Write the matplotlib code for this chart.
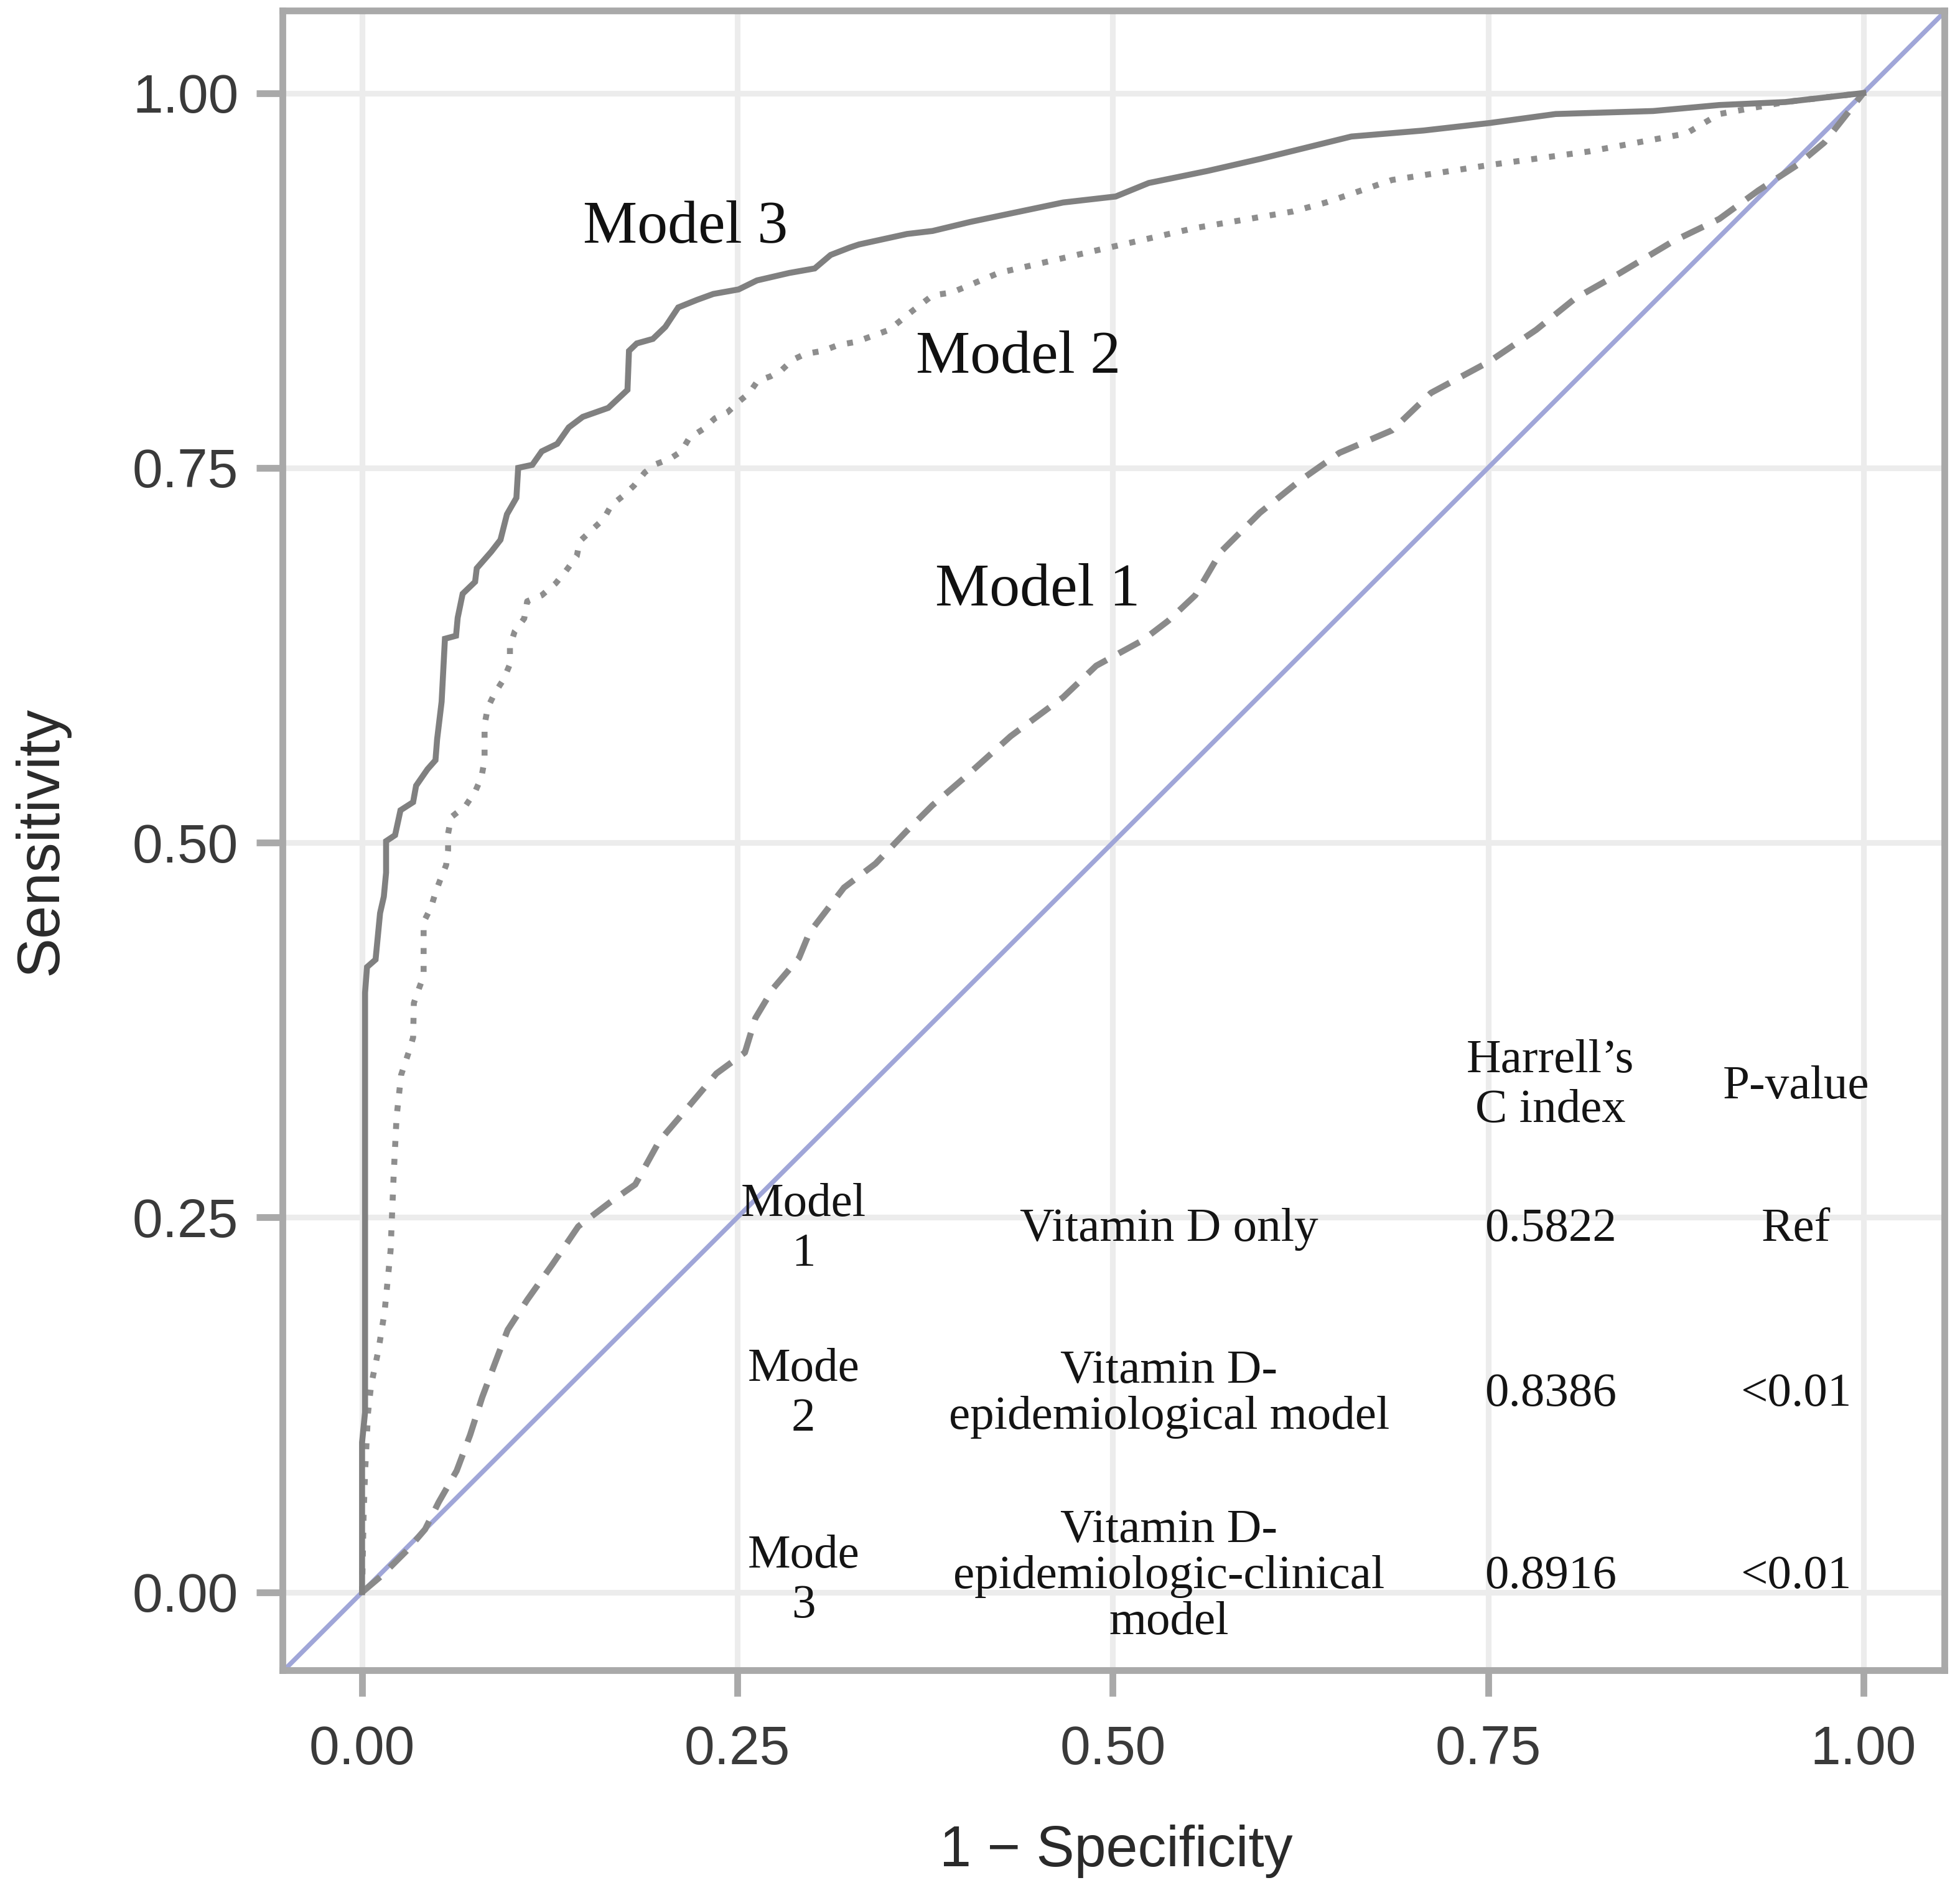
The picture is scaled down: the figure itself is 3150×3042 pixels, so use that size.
import matplotlib
matplotlib.use("Agg")
import matplotlib.pyplot as plt

# ---------------- data ----------------
m3_fpr = [0.0, 0.0, 0.002, 0.002, 0.0033, 0.009, 0.012, 0.0145, 0.016, 0.016, 0.022, 0.0256, 0.034,
          0.036, 0.0436, 0.0489, 0.050, 0.053, 0.0552, 0.0626, 0.0637, 0.067, 0.0753, 0.0764, 0.086,
          0.0922, 0.0965, 0.1028, 0.104, 0.1134, 0.1197, 0.130, 0.1377, 0.147, 0.164, 0.1768, 0.1778,
          0.183, 0.1937, 0.202, 0.2106, 0.223, 0.234, 0.2508, 0.263, 0.2846, 0.3015, 0.3121, 0.325,
          0.331, 0.363, 0.380, 0.405, 0.424, 0.467, 0.502, 0.524, 0.563, 0.598, 0.659, 0.707, 0.751,
          0.795, 0.860, 0.904, 0.948, 1.0]
m3_tpr = [0.0, 0.10, 0.12, 0.40, 0.417, 0.422, 0.453, 0.464, 0.48, 0.501, 0.505, 0.5216, 0.527,
          0.538, 0.549, 0.555, 0.569, 0.594, 0.636, 0.638, 0.650, 0.666, 0.674, 0.683, 0.694,
          0.702, 0.719, 0.730, 0.750, 0.752, 0.761, 0.766, 0.777, 0.784, 0.790, 0.802, 0.828,
          0.833, 0.836, 0.844, 0.857, 0.862, 0.866, 0.869, 0.875, 0.880, 0.883, 0.892, 0.897,
          0.899, 0.906, 0.908, 0.914, 0.918, 0.927, 0.931, 0.940, 0.948, 0.956, 0.971, 0.975, 0.980,
          0.986, 0.988, 0.992, 0.994, 1.0]

m2_fpr = [0.0, 0.001, 0.002, 0.004, 0.006, 0.011, 0.015, 0.019, 0.021, 0.023, 0.026, 0.031, 0.034,
          0.0345, 0.038, 0.041, 0.041, 0.046, 0.049, 0.052, 0.056, 0.0573, 0.0573, 0.0594, 0.0689,
          0.0753, 0.0795, 0.0816, 0.0816, 0.0816, 0.0837, 0.088, 0.0943, 0.0985, 0.0985, 0.1017,
          0.108, 0.110, 0.1197, 0.129, 0.1356, 0.143, 0.145, 0.1535, 0.161, 0.166, 0.1747, 0.181,
          0.1884, 0.1958, 0.205, 0.2127, 0.218, 0.2275, 0.235, 0.2434, 0.2508, 0.258, 0.2635, 0.272,
          0.2793, 0.2867, 0.2952, 0.3068, 0.3174, 0.329, 0.351, 0.367, 0.380, 0.393, 0.424, 0.489,
          0.555, 0.620, 0.642, 0.686, 0.751, 0.817, 0.882, 0.904, 0.948, 1.0]
m2_tpr = [0.0, 0.05, 0.08, 0.12, 0.138, 0.162, 0.187, 0.228, 0.277, 0.317, 0.345, 0.36, 0.370,
          0.393, 0.403, 0.411, 0.447, 0.457, 0.467, 0.475, 0.485, 0.495, 0.506, 0.517, 0.5245,
          0.534, 0.5436, 0.555, 0.567, 0.5785, 0.590, 0.599, 0.609, 0.619, 0.631, 0.641,
          0.6495, 0.661, 0.665, 0.673, 0.681, 0.691, 0.701, 0.709, 0.716, 0.725, 0.732, 0.738,
          0.747, 0.7525, 0.756, 0.761, 0.770, 0.776, 0.783, 0.787, 0.794, 0.800, 0.808, 0.811,
          0.815, 0.822, 0.826, 0.828, 0.832, 0.834, 0.842, 0.855, 0.865, 0.867, 0.880, 0.895,
          0.910, 0.921, 0.927, 0.942, 0.952, 0.961, 0.973, 0.986, 0.994, 1.0]

m1_fpr = [0.0, 0.013, 0.030, 0.042, 0.051, 0.063, 0.072, 0.080, 0.089, 0.097, 0.110, 0.127, 0.144,
          0.165, 0.182, 0.198, 0.215, 0.236, 0.255, 0.262, 0.274, 0.291, 0.298, 0.321, 0.342, 0.363,
          0.380, 0.402, 0.432, 0.467, 0.489, 0.520, 0.537, 0.555, 0.572, 0.598, 0.624, 0.651, 0.686,
          0.712, 0.751, 0.782, 0.808, 0.838, 0.873, 0.904, 0.930, 0.956, 0.974, 0.989, 1.0]
m1_tpr = [0.0, 0.011, 0.028, 0.042, 0.060, 0.081, 0.105, 0.130, 0.154, 0.175, 0.195, 0.219, 0.244,
          0.260, 0.272, 0.301, 0.321, 0.346, 0.360, 0.383, 0.403, 0.423, 0.44, 0.470, 0.486, 0.508,
          0.525, 0.544, 0.571, 0.597, 0.618, 0.635, 0.648, 0.665, 0.694, 0.720, 0.741, 0.760, 0.775,
          0.800, 0.821, 0.842, 0.863, 0.880, 0.901, 0.916, 0.935, 0.952, 0.967, 0.986, 1.0]

ticks = [0.0, 0.25, 0.5, 0.75, 1.0]
tick_labels = ["0.00", "0.25", "0.50", "0.75", "1.00"]

curve_labels = ["Model 3", "Model 2", "Model 1"]
curve_label_xy = [(0.2155, 0.910), (0.437, 0.823), (0.450, 0.668)]

table_header = ["Harrell\u2019s\nC index", "P-value"]
table_models = ["Model\n1", "Mode\n2", "Mode\n3"]
table_desc = ["Vitamin D only", "Vitamin D-\nepidemiological model",
              "Vitamin D-\nepidemiologic-clinical\nmodel"]
table_cindex = ["0.5822", "0.8386", "0.8916"]
table_pvalue = ["Ref", "<0.01", "<0.01"]

# ---------------- figure ----------------
fig = plt.figure(figsize=(10.5, 10.14), dpi=300)
ax = fig.add_axes([454 / 3150, 1 - 2684 / 3042, (3125 - 454) / 3150, (2684 - 17) / 3042])

ax.set_xlim(-0.053, 1.054)
ax.set_ylim(-0.052, 1.055)

frame_col = "#a9a9a9"
for s in ax.spines.values():
    s.set_color(frame_col)
    s.set_linewidth(2.6)

ax.set_xticks(ticks)
ax.set_xticklabels(tick_labels)
ax.set_yticks(ticks)
ax.set_yticklabels(tick_labels)
ax.tick_params(axis="both", direction="out", length=10, width=2.6, color=frame_col,
               labelcolor="#3a3a3a", labelsize=21)
ax.tick_params(axis="x", pad=11)
ax.tick_params(axis="y", pad=7)
for lab in ax.get_xticklabels() + ax.get_yticklabels():
    lab.set_family("Liberation Sans")

ax.grid(True, color="#ececec", linewidth=2.2)
ax.set_axisbelow(True)

# diagonal reference line
ax.axline((0, 0), (1, 1), color="#a0a6d8", linewidth=1.8, zorder=2)

ax.plot(m1_fpr, m1_tpr, color="#8a8a8a", linewidth=2.4, linestyle=(0, (3.8, 2.2)), zorder=3)
ax.plot(m2_fpr, m2_tpr, color="#8e8e8e", linewidth=2.3, linestyle=(0, (1.0, 2.0)), zorder=3)
ax.plot(m3_fpr, m3_tpr, color="#808080", linewidth=2.3, linestyle="-", zorder=4,
        solid_joinstyle="miter")

serif = "Liberation Serif"
for lab, (x, y) in zip(curve_labels, curve_label_xy):
    ax.text(x, y, lab, family=serif, fontsize=23.5, ha="center", va="center", color="#111111")

# table
tcol = "#141414"
tsize = 18.5
col_x = [0.294, 0.5375, 0.7915, 0.955]
row_y = [0.242, 0.132, 0.0104]
ax.text(col_x[2], 0.338, table_header[0], family=serif, fontsize=tsize, ha="center",
        va="center", linespacing=1.2, color=tcol)
ax.text(col_x[3], 0.337, table_header[1], family=serif, fontsize=tsize, ha="center",
        va="center", color=tcol)
for i in range(3):
    ax.text(col_x[0], row_y[i] if i < 2 else 0.0075, table_models[i], family=serif,
            fontsize=tsize, ha="center", va="center", linespacing=1.2, color=tcol)
    ax.text(col_x[1], row_y[i], table_desc[i], family=serif, fontsize=tsize, ha="center",
            va="center", linespacing=1.1, color=tcol)
    ax.text(col_x[2], row_y[i], table_cindex[i], family=serif, fontsize=tsize, ha="center",
            va="center", color=tcol)
    ax.text(col_x[3], row_y[i], table_pvalue[i], family=serif, fontsize=tsize, ha="center",
            va="center", color=tcol)

fig.text(0.021, 0.556, "Sensitivity", rotation=90, family="Liberation Sans", fontsize=23,
         ha="center", va="center", color="#2a2a2a")
fig.text(1794 / 3150, 0.022, "1 \u2212 Specificity", family="Liberation Sans", fontsize=22,
         ha="center", va="center", color="#2a2a2a")

fig.savefig("out.png", dpi=300, facecolor="white")
